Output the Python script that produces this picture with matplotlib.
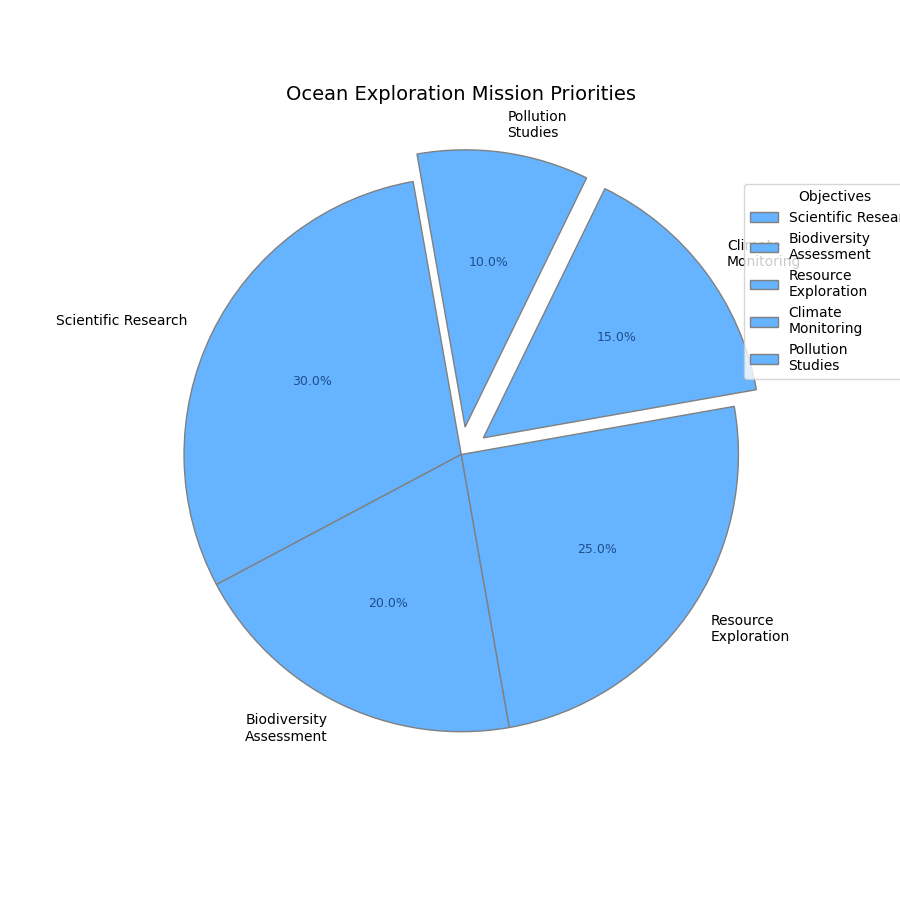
import matplotlib
matplotlib.use('Agg')
import matplotlib.pyplot as plt

labels = ['Scientific Research', 'Biodiversity\nAssessment', 'Resource\nExploration',
          'Climate\nMonitoring', 'Pollution\nStudies']
sizes = [30, 20, 25, 15, 10]
explode = [0, 0, 0, 0.1, 0.1]

fig, ax = plt.subplots(figsize=(9, 9), dpi=100)
wedges, texts, autotexts = ax.pie(sizes, labels=labels, explode=explode, startangle=100,
                                  colors=['#66b3ff'] * 5, autopct='%1.1f%%',
                                  wedgeprops=dict(edgecolor='grey'))
for t in autotexts:
    t.set_color('#1f4e8c')
    t.set_fontsize(9)
ax.set_title('Ocean Exploration Mission Priorities', fontsize=14)
ax.legend(wedges, labels, title='Objectives', loc='upper right', bbox_to_anchor=(1.18, 0.90))
ax.set_aspect('equal')
ax.set_xlim(-1.25, 1.25)
ax.set_ylim(-1.25, 1.25)
plt.savefig('out.png')
